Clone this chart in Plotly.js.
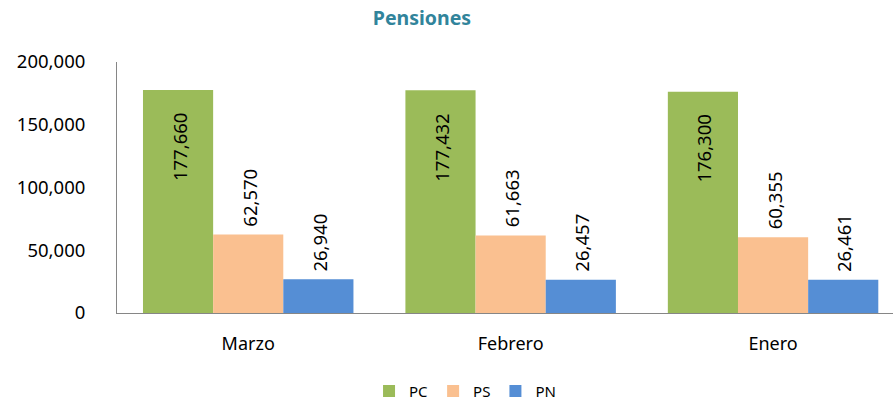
<!DOCTYPE html>
<html>
<head>
<meta charset="utf-8">
<script src="https://cdn.plot.ly/plotly-3.0.1.min.js"></script>
<style>html,body{margin:0;padding:0;background:#fff;}#chart{width:893px;height:401px;}</style>
</head>
<body>
<div id="chart"></div>
<script>
const categories = ["Marzo", "Febrero", "Enero"];
const seriesNames = ["PC", "PS", "PN"];
const pcValues = [177660, 177432, 176300];
const psValues = [62570, 61663, 60355];
const pnValues = [26940, 26457, 26461];
const yTickVals = [0, 50000, 100000, 150000, 200000];
const yTickText = ["0", "50,000", "100,000", "150,000", "200,000"];

const colors = ["#9BBB59", "#FAC090", "#558ED5"];
const allValues = [pcValues, psValues, pnValues];
const fmt = v => v.toLocaleString("en-US");
const FONT = "Noto Sans, sans-serif";

const traces = allValues.map((vals, i) => ({
  type: "bar",
  name: seriesNames[i],
  x: categories,
  y: vals,
  marker: {color: colors[i]},
  hoverinfo: "none"
}));

// Labels: PC inside end, others outside end
const barW = 70.2; // approximate px width of one bar
const annotations = [];
allValues.forEach((vals, i) => {
  vals.forEach((v, j) => {
    annotations.push({
      x: categories[j], y: v, xref: "x", yref: "y",
      text: fmt(v), showarrow: false, textangle: -90,
      xshift: (i - 1) * barW + 1,
      yanchor: i === 0 ? "top" : "bottom",
      yshift: i === 0 ? -21 : 6,
      font: {family: FONT, size: 18.5, color: "#000"}
    });
  });
});

const layout = {
  width: 893, height: 401,
  margin: {l: 117, r: 0, t: 62, b: 87.5, autoexpand: false},
  paper_bgcolor: "#fff", plot_bgcolor: "#fff",
  title: {text: "<b>Pensiones</b>", x: 0.4725, xanchor: "center", y: 0.955, yanchor: "middle",
          font: {family: FONT, size: 19.5, color: "#31849B"}},
  barmode: "group", bargap: 0.198, bargroupgap: 0,
  showlegend: true,
  legend: {orientation: "h", x: 0.4485, xanchor: "center",
           y: -0.312, yanchor: "middle",
           font: {family: FONT, size: 15, color: "#000"}, itemwidth: 30, traceorder: "normal"},
  xaxis: {range: [-0.5, 2.457], showline: true, linecolor: "#868686", linewidth: 1,
          ticks: "", showgrid: false, zeroline: false, fixedrange: true, automargin: false,
          tickfont: {family: FONT, size: 18, color: "#000"}, ticklabelstandoff: 14},
  yaxis: {range: [0, 200000], tickvals: yTickVals, ticktext: yTickText, showline: true,
          linecolor: "#868686", linewidth: 1, ticks: "", showgrid: false, zeroline: false,
          automargin: false,
          tickfont: {family: FONT, size: 18.5, color: "#000"}, ticklabelstandoff: 27},
  annotations: annotations
};

Plotly.newPlot("chart", traces, layout, {displayModeBar: false, staticPlot: true});
</script>
</body>
</html>
